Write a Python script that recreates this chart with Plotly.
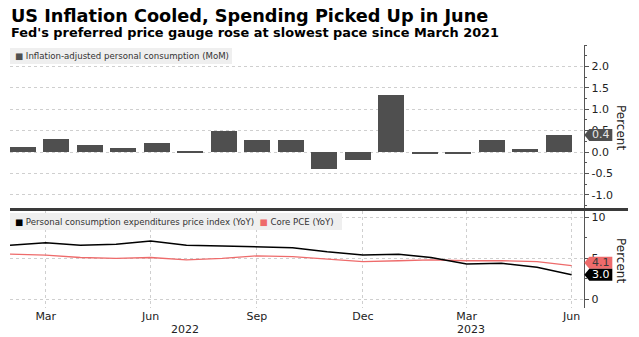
import numpy as np
import pandas as pd
import plotly.graph_objects as go

# Monthly observations, Feb 2022 - Jun 2023
months = ["2022-02", "2022-03", "2022-04", "2022-05", "2022-06", "2022-07",
          "2022-08", "2022-09", "2022-10", "2022-11", "2022-12", "2023-01",
          "2023-02", "2023-03", "2023-04", "2023-05", "2023-06"]

# Inflation-adjusted personal consumption, % MoM
real_spending_mom = [0.13, 0.30, 0.18, 0.09, 0.21, 0.01, 0.49, 0.28, 0.28,
                     -0.40, -0.19, 1.35, -0.02, -0.02, 0.28, 0.07, 0.4]

# PCE price index and core PCE, % YoY
pce_yoy = [6.6, 6.9, 6.6, 6.7, 7.1, 6.6, 6.5, 6.4, 6.3,
           5.8, 5.4, 5.5, 5.1, 4.3, 4.4, 3.9, 3.0]
core_pce_yoy = [5.5, 5.4, 5.1, 5.0, 5.1, 4.8, 5.0, 5.3, 5.2,
                4.9, 4.6, 4.7, 4.8, 4.7, 4.7, 4.6, 4.1]

# Axis ticks
date_ticks = ["2022-03-31", "2022-06-30", "2022-09-30", "2022-12-31",
              "2023-03-31", "2023-06-30"]
date_tick_labels = ["Mar", "Jun", "Sep", "Dec", "Mar", "Jun"]
top_ticks = [-1.0, -0.5, 0.0, 0.5, 1.0, 1.5, 2.0]
bottom_ticks = [0, 5, 10]

W, H = 639, 337
BAR_COLOR = "#4f4f4f"
PCE_COLOR = "#000000"
CORE_COLOR = "#ee6b6b"
GRID = "#cfcfcf"
AXIS = "#555555"
TXT = "#222222"
FONT = "DejaVu Sans"

month_end = (pd.PeriodIndex(months, freq="M").to_timestamp(how="end")
             .normalize())
bar_idx = np.arange(len(months))


def px_x(p):
    return p / W


def px_y(p):
    return 1 - p / H


x_left, x_right = 10, 584.3
x_dom = [px_x(x_left), px_x(x_right)]
top_dom = [px_y(208), px_y(44.7)]
bot_dom = [px_y(308), px_y(211)]
date_range = ["2022-02-28", "2023-07-11"]

fig = go.Figure()

fig.add_trace(go.Bar(
    x=bar_idx, y=real_spending_mom, xaxis="x3", yaxis="y",
    marker=dict(color=BAR_COLOR, line=dict(width=0)), width=0.777,
    name="Inflation-adjusted personal consumption (MoM)", showlegend=False,
))
fig.add_trace(go.Scatter(
    x=month_end, y=core_pce_yoy, xaxis="x2", yaxis="y2", mode="lines",
    line=dict(color=CORE_COLOR, width=1.3), name="Core PCE (YoY)",
    showlegend=False,
))
fig.add_trace(go.Scatter(
    x=month_end, y=pce_yoy, xaxis="x2", yaxis="y2", mode="lines",
    line=dict(color=PCE_COLOR, width=1.5),
    name="Personal consumption expenditures price index (YoY)",
    showlegend=False,
))

date_axis = dict(
    type="date", range=date_range, domain=x_dom,
    tickmode="array", tickvals=date_ticks, showgrid=True, gridcolor=GRID,
    griddash="dot", gridwidth=1, zeroline=False, showline=False, ticks="",
    fixedrange=True,
)


def fmt_tick(v, decimals):
    return f"{v:.{decimals}f}"


fig.update_layout(
    width=W, height=H,
    margin=dict(l=0, r=0, t=0, b=0),
    paper_bgcolor="white", plot_bgcolor="white",
    font=dict(family=FONT, color=TXT, size=11),
    showlegend=False,
    bargap=0,
    xaxis=dict(date_axis, anchor="y", showticklabels=False),
    xaxis2=dict(date_axis, anchor="y2", ticktext=date_tick_labels,
                showticklabels=True, tickfont=dict(size=11, color=TXT)),
    xaxis3=dict(overlaying="x", anchor="y", domain=x_dom,
                range=[-0.389, 16.77], visible=False, fixedrange=True),
    yaxis=dict(
        domain=top_dom, range=[-1.31, 2.51], side="right", anchor="x",
        tickmode="array", tickvals=top_ticks,
        ticktext=[fmt_tick(v, 1) for v in top_ticks],
        ticks="outside", ticklen=4, tickcolor=AXIS, tickwidth=1,
        minor=dict(tickmode="linear", tick0=0, dtick=0.25, ticks="outside",
                   ticklen=2, tickcolor=AXIS, showgrid=False),
        showline=True, linecolor=AXIS, linewidth=1,
        showgrid=True, gridcolor=GRID, griddash="dot", zeroline=False,
        tickfont=dict(size=11, color=TXT), fixedrange=True,
    ),
    yaxis2=dict(
        domain=bot_dom, range=[-1.06, 10.77], side="right", anchor="x2",
        tickmode="array", tickvals=bottom_ticks,
        ticktext=[fmt_tick(v, 0) for v in bottom_ticks],
        ticks="outside", ticklen=4, tickcolor=AXIS, tickwidth=1,
        minor=dict(tickmode="linear", tick0=0, dtick=2.5, ticks="outside",
                   ticklen=2, tickcolor=AXIS, showgrid=False),
        showline=True, linecolor=AXIS, linewidth=1,
        showgrid=True, gridcolor=GRID, griddash="dot", zeroline=False,
        tickfont=dict(size=11, color=TXT), fixedrange=True,
    ),
)

annotations = []
shapes = []

# Headline and subheading
annotations.append(dict(
    text="<b>US Inflation Cooled, Spending Picked Up in June</b>",
    xref="paper", yref="paper", x=px_x(9), y=px_y(16), xanchor="left",
    yanchor="middle", showarrow=False,
    font=dict(family=FONT, size=17.7, color="#000000"),
))
annotations.append(dict(
    text="<b>Fed's preferred price gauge rose at slowest pace since March 2021</b>",
    xref="paper", yref="paper", x=px_x(9), y=px_y(33), xanchor="left",
    yanchor="middle", showarrow=False,
    font=dict(family=FONT, size=12.9, color="#000000"),
))

# Legend boxes
LEG_FONT = dict(family=FONT, size=8.6, color="#333333")
shapes.append(dict(type="rect", xref="paper", yref="paper",
                   x0=px_x(10), x1=px_x(232), y0=px_y(64), y1=px_y(48),
                   fillcolor="#efefef", line=dict(width=0), layer="above"))
annotations.append(dict(
    text=f"<span style='color:{BAR_COLOR}'>■</span> "
         "Inflation-adjusted personal consumption (MoM)",
    xref="paper", yref="paper", x=px_x(13), y=px_y(56), xanchor="left",
    yanchor="middle", showarrow=False, font=LEG_FONT,
))
shapes.append(dict(type="rect", xref="paper", yref="paper",
                   x0=px_x(10), x1=px_x(342), y0=px_y(230), y1=px_y(213),
                   fillcolor="#efefef", line=dict(width=0), layer="above"))
annotations.append(dict(
    text=f"<span style='color:{PCE_COLOR}'>■</span> "
         "Personal consumption expenditures price index (YoY)  "
         f"<span style='color:{CORE_COLOR}'>■</span> Core PCE (YoY)",
    xref="paper", yref="paper", x=px_x(13), y=px_y(221.5), xanchor="left",
    yanchor="middle", showarrow=False, font=LEG_FONT,
))

# Panel divider
shapes.append(dict(type="line", xref="paper", yref="paper",
                   x0=px_x(10), x1=px_x(628), y0=px_y(209.5), y1=px_y(209.5),
                   line=dict(color="#3a3a3a", width=3)))

# Year labels under the month ticks
for yr, when in [("2022", "2022-07-30"), ("2023", "2023-04-04")]:
    annotations.append(dict(
        text=yr, xref="x2", yref="paper", x=when, y=px_y(329),
        xanchor="center", yanchor="middle", showarrow=False,
        font=dict(size=11, color=TXT),
    ))

# Axis titles
for yc in (127, 260):
    annotations.append(dict(
        text="Percent", xref="paper", yref="paper", x=px_x(621), y=px_y(yc),
        xanchor="center", yanchor="middle", textangle=90, showarrow=False,
        font=dict(size=12, color=TXT),
    ))


def value_tag(value, yref, fill, text_color, shift=0):
    # pointed tag at the right edge of the panel showing the latest value
    shapes.append(dict(
        type="path", xref="paper", yref=yref, xsizemode="pixel",
        ysizemode="pixel", xanchor=px_x(x_right), yanchor=value,
        path=(f"M 0,{shift} L 5,{shift + 6} L 28,{shift + 6} "
              f"L 28,{shift - 6} L 5,{shift - 6} Z"),
        fillcolor=fill, line=dict(width=0), layer="above",
    ))
    annotations.append(dict(
        text=f"{value:.1f}", xref="paper", yref=yref,
        x=px_x(x_right + 16.5), y=value, yshift=shift, xanchor="center",
        yanchor="middle", showarrow=False,
        font=dict(size=11, color=text_color),
    ))


value_tag(real_spending_mom[-1], "y", BAR_COLOR, "#e6e6e6")
value_tag(core_pce_yoy[-1], "y2", CORE_COLOR, "#3a3a3a", shift=3)
value_tag(pce_yoy[-1], "y2", "#000000", "#ffffff")

fig.update_layout(annotations=annotations, shapes=shapes)

fig.write_html("out.html")
